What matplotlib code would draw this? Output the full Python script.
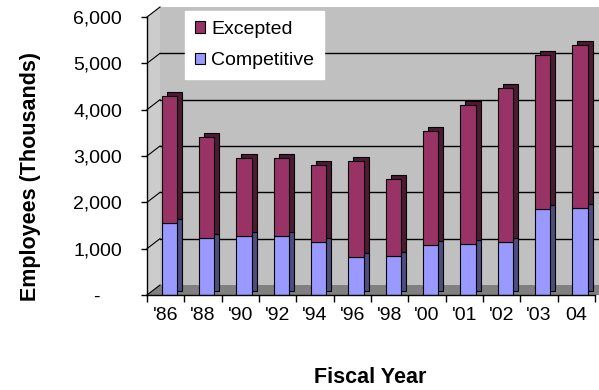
import numpy as np
import matplotlib
matplotlib.use("Agg")
import matplotlib.pyplot as plt
from matplotlib.transforms import ScaledTranslation, IdentityTransform
from matplotlib.patches import Polygon, Rectangle

# valori (migliaia di dipendenti)
anni = ["'86", "'88", "'90", "'92", "'94", "'96", "'98", "'00", "'01", "'02", "'03", "04"]
competitive = [1560, 1230, 1270, 1270, 1150, 810, 850, 1070, 1100, 1150, 1850, 1870]
excepted = [2740, 2170, 1680, 1680, 1650, 2080, 1650, 2470, 3000, 3320, 3330, 3530]
yticks = [0, 1000, 2000, 3000, 4000, 5000, 6000]
ytick_labels = ["-    ", "1,000", "2,000", "3,000", "4,000", "5,000", "6,000"]

plt.rcParams['font.family'] = ['Liberation Sans', 'DejaVu Sans']

fig = plt.figure(figsize=(5.99, 3.90), dpi=100)
ax = fig.add_axes([147/599, 1 - 295/390, 448/599, 278/390])
ax.set_xlim(-0.5, 11.5)
ax.set_ylim(0, 6000)
ax.patch.set_visible(False)

# effetto 3D: parete di fondo spostata in alto a destra
prof = ScaledTranslation(0.13, 0.10, fig.dpi_scale_trans)
ax.add_patch(Rectangle((0, 0), 1, 1, transform=ax.transAxes + prof,
                       facecolor='#C0C0C0', edgecolor='none', zorder=0, clip_on=False))

def px(x, y):
    return ax.transAxes.transform((x, y))

dx, dy = 13, 10
a, b = px(0, 0), px(0, 1)
parete_sx = [a, b, b + [dx, dy], a + [dx, dy]]
ax.add_patch(Polygon(parete_sx, transform=IdentityTransform(), facecolor='#CCCCCC',
                     edgecolor='none', zorder=0.5, clip_on=False))
c = px(1, 0)
pavimento = [a, c + [12, 0], c + [dx + 12, dy], a + [dx, dy]]
ax.add_patch(Polygon(pavimento, transform=IdentityTransform(), facecolor='#808080',
                     edgecolor='none', zorder=0.6, clip_on=False))

# griglia sulla parete di fondo
for v in yticks[1:-1]:
    ax.plot([-0.5, 12.5], [v, v], color='black', lw=1, transform=ax.transData + prof,
            clip_on=False, zorder=0.7)
for v in yticks:
    p = ax.transData.transform((-0.5, v))
    ax.plot([p[0], p[0] + dx], [p[1], p[1] + dy], color='black', lw=0.8,
            transform=IdentityTransform(), clip_on=False, zorder=0.8)

x = np.arange(len(anni)) + 0.1
w = 0.41
lato = ax.transData + ScaledTranslation(0.05, 0.04, fig.dpi_scale_trans)
ax.bar(x, competitive, w, color='#4D4D80', edgecolor='black', lw=0.8, transform=lato, zorder=3)
ax.bar(x, excepted, w, bottom=competitive, color='#4D1A33', edgecolor='black', lw=0.8,
       transform=lato, zorder=3)
b_comp = ax.bar(x, competitive, w, color='#9999FF', edgecolor='black', lw=0.8, zorder=4)
b_exc = ax.bar(x, excepted, w, bottom=competitive, color='#993366', edgecolor='black',
               lw=0.8, zorder=4)

for s in ['top', 'right']:
    ax.spines[s].set_visible(False)
for s in ['left', 'bottom']:
    ax.spines[s].set_linewidth(1)
    ax.spines[s].set_zorder(5)

ax.set_xticks(np.arange(-0.5, 12, 1))
ax.set_xticklabels([])
ax.set_xticks(np.arange(len(anni)), minor=True)
ax.set_xticklabels(anni, minor=True, fontsize=14)
ax.tick_params(axis='x', which='major', length=5, width=1)
ax.tick_params(axis='x', which='minor', length=0, pad=9)
ax.set_yticks(yticks)
ax.set_yticklabels(ytick_labels, fontsize=14)
ax.tick_params(axis='y', length=4, width=1, pad=14)

ax.set_ylabel('Employees (Thousands)', fontsize=15.5, fontweight='bold', va='center')
ax.yaxis.set_label_coords(-0.259, 0.428)
ax.set_xlabel('Fiscal Year', fontsize=15.5, fontweight='bold', va='center')
ax.xaxis.set_label_coords(0.498, -0.295)

ax.legend([b_exc, b_comp], ['Excepted', 'Competitive'], loc='upper left',
          bbox_to_anchor=(185/599, 1 - 11/390), bbox_transform=fig.transFigure,
          frameon=True, fancybox=False, edgecolor='white', facecolor='white',
          framealpha=1, borderaxespad=0, handlelength=0.55, handleheight=0.55,
          handletextpad=0.3, labelspacing=0.75, fontsize=14, borderpad=0.5)

fig.savefig('out.png', dpi=100)
